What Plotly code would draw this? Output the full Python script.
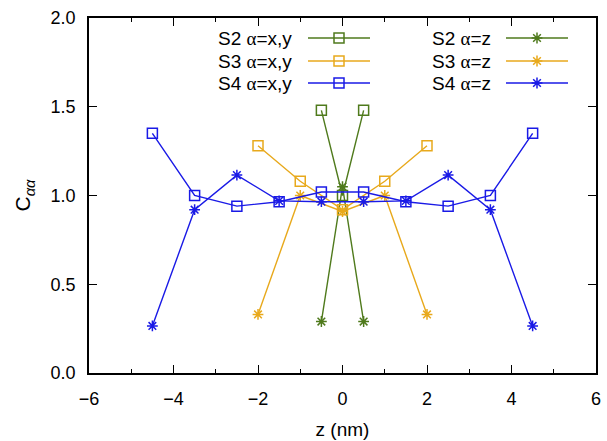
import plotly.graph_objects as go

# Data
s2_z_pos = [-0.5, 0.0, 0.5]
s2_xy = [1.48, 1.00, 1.48]
s2_zz = [0.29, 1.05, 0.29]

s3_z_pos = [-2.0, -1.0, 0.0, 1.0, 2.0]
s3_xy = [1.28, 1.08, 0.92, 1.08, 1.28]
s3_zz = [0.33, 1.00, 0.91, 1.00, 0.33]

s4_z_pos = [-4.5, -3.5, -2.5, -1.5, -0.5, 0.5, 1.5, 2.5, 3.5, 4.5]
s4_xy = [1.35, 1.00, 0.94, 0.965, 1.02, 1.02, 0.965, 0.94, 1.00, 1.35]
s4_zz = [0.265, 0.92, 1.115, 0.97, 0.965, 0.965, 0.97, 1.115, 0.92, 0.265]

x_major_vals = [-6, -4, -2, 0, 2, 4, 6]
x_major_text = ["−6", "−4", "−2", "0", "2", "4", "6"]
x_minor_vals = [-5, -3, -1, 1, 3, 5]

A = '<span style="font-family:Liberation Serif">α</span>'
labels_xy = [f"S2 {A}=x,y", f"S3 {A}=x,y", f"S4 {A}=x,y"]
labels_z = [f"S2 {A}=z", f"S3 {A}=z", f"S4 {A}=z"]

GREEN = "#4f7a1c"
ORANGE = "#e8a91c"
BLUE = "#1a1ae6"
colors = [GREEN, ORANGE, BLUE]

FONT = "Liberation Sans, Arial, Helvetica, sans-serif"

W, H = 607, 441
L, R, T, B = 89, 11, 18, 68

fig = go.Figure()

series = [
    (s2_z_pos, s2_xy, s2_zz),
    (s3_z_pos, s3_xy, s3_zz),
    (s4_z_pos, s4_xy, s4_zz),
]

sq = dict(symbol="square-open", size=10, line=dict(width=1.5))
st = dict(symbol="asterisk-open", size=9, line=dict(width=1.5))

for (xs, yxy, yz), c in zip(series, colors):
    fig.add_trace(go.Scatter(x=xs, y=yxy, mode="lines+markers",
                             line=dict(color=c, width=1.4),
                             marker=dict(color=c, **sq), showlegend=False))
    fig.add_trace(go.Scatter(x=xs, y=yz, mode="lines+markers",
                             line=dict(color=c, width=1.4),
                             marker=dict(color=c, **st), showlegend=False))

# Custom legend (text left, sample right) on an overlay axis spanning the plot area
def xp(px):
    return (px - 89) / (596 - 89)
def yp(py):
    return (373 - py) / (373 - 18)

rows_py = [38, 61, 83]
for i, (c, lxy, lz) in enumerate(zip(colors, labels_xy, labels_z)):
    y = yp(rows_py[i])
    fig.add_trace(go.Scatter(x=[xp(308), xp(370)], y=[y, y], mode="lines",
                             line=dict(color=c, width=1.4), xaxis="x2", yaxis="y2",
                             showlegend=False, hoverinfo="skip"))
    fig.add_trace(go.Scatter(x=[xp(339)], y=[y], mode="markers",
                             marker=dict(color=c, **sq), xaxis="x2", yaxis="y2",
                             showlegend=False, hoverinfo="skip"))
    fig.add_trace(go.Scatter(x=[xp(506), xp(568)], y=[y, y], mode="lines",
                             line=dict(color=c, width=1.4), xaxis="x2", yaxis="y2",
                             showlegend=False, hoverinfo="skip"))
    fig.add_trace(go.Scatter(x=[xp(537)], y=[y], mode="markers",
                             marker=dict(color=c, **st), xaxis="x2", yaxis="y2",
                             showlegend=False, hoverinfo="skip"))
    fig.add_annotation(x=xp(294), y=y, xref="x2", yref="y2", text=lxy,
                       xanchor="right", yanchor="middle", showarrow=False,
                       font=dict(family=FONT, size=19, color="black"))
    fig.add_annotation(x=xp(493), y=y, xref="x2", yref="y2", text=lz,
                       xanchor="right", yanchor="middle", showarrow=False,
                       font=dict(family=FONT, size=19, color="black"))

axis_common = dict(showline=True, linecolor="black", linewidth=1.5, mirror="allticks",
                   ticks="inside", tickwidth=1, tickcolor="black",
                   showgrid=False, zeroline=False, automargin=False,
                   tickfont=dict(family=FONT, size=18, color="black"))

fig.update_layout(
    width=W, height=H, autosize=False,
    margin=dict(l=L, r=R, t=T, b=B, autoexpand=False),
    paper_bgcolor="white", plot_bgcolor="white",
    font=dict(family=FONT, size=18, color="black"),
    xaxis=dict(range=[-6, 6], tickmode="array", tickvals=x_major_vals, ticktext=x_major_text,
               ticklen=8,
               minor=dict(tickmode="array", tickvals=x_minor_vals, ticks="inside",
                          ticklen=4, tickcolor="black", tickwidth=1),
               title=dict(text="z (nm)", font=dict(family=FONT, size=19), standoff=14),
               ticklabelstandoff=9, **axis_common),
    yaxis=dict(range=[0, 2], dtick=0.5, tick0=0, tickformat=".1f", ticklen=8,
               title=dict(text="C<sub><i>αα</i></sub>", font=dict(family=FONT, size=21), standoff=14),
               ticklabelstandoff=8, **axis_common),
    xaxis2=dict(range=[0, 1], overlaying="x", visible=False, fixedrange=True),
    yaxis2=dict(range=[0, 1], overlaying="y", visible=False, fixedrange=True),
    showlegend=False,
)

fig.write_html(
    "out.html",
    config={"responsive": False, "displayModeBar": False},
    post_script="document.body.style.margin='0';document.body.style.overflow='hidden';",
)
